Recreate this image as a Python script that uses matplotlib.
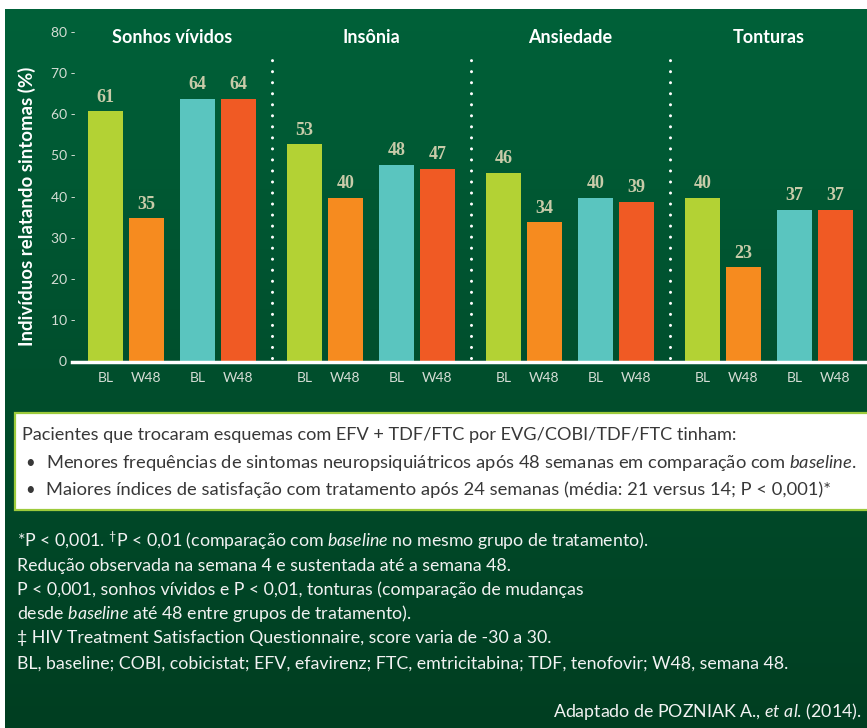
import numpy as np
import matplotlib
matplotlib.use('Agg')
import matplotlib.pyplot as plt
from matplotlib.patches import Rectangle
from matplotlib.colors import LinearSegmentedColormap

# dados (% de indivíduos relatando sintomas)
grupos = ['Sonhos vívidos', 'Insônia', 'Ansiedade', 'Tonturas']
rotulos = ['BL', 'W48', 'BL', 'W48']
efv_bl = [61, 53, 46, 40]
efv_w48 = [35, 40, 34, 23]
evg_bl = [64, 48, 40, 37]
evg_w48 = [64, 47, 39, 37]
yticks = [0, 10, 20, 30, 40, 50, 60, 70, 80]

cores = ['#B3D234', '#F68B1F', '#5AC5BF', '#F05A24']
cor_valor = '#C8CBA9'
cor_tick = '#D5DDD5'

W, H = 867, 728
FONTE = 'Lato'
plt.rcParams['font.family'] = [FONTE, 'DejaVu Sans']
plt.rcParams['mathtext.fontset'] = 'custom'
plt.rcParams['mathtext.rm'] = FONTE
plt.rcParams['mathtext.it'] = FONTE + ':italic'

fig = plt.figure(figsize=(W / 100, H / 100), dpi=100)
fig.patch.set_facecolor('white')


def fx(x):
    return x / W


def fy(y):
    return 1 - y / H


# fundo verde em degradê
bg = fig.add_axes([fx(5), 0, fx(W - 5), 1 - 9 / H])
grad = np.linspace(0, 1, 256).reshape(-1, 1)
cmap = LinearSegmentedColormap.from_list('verde', ['#006139', '#004F2D', '#003E21'])
bg.imshow(grad, aspect='auto', cmap=cmap, extent=[0, 1, 1, 0])
bg.axis('off')

# eixo do gráfico (x em pixels da imagem)
ax = fig.add_axes([fx(72), fy(362), fx(W - 72), (362 - 33) / H])
ax.patch.set_alpha(0)
ax.set_xlim(72, W)
ax.set_ylim(0, 80)

passo_grupo = 199
desloc = [0, 41, 92, 133]
x0 = 105.5
largura = 35

centros = []
for g in range(len(grupos)):
    vals = [efv_bl[g], efv_w48[g], evg_bl[g], evg_w48[g]]
    for k in range(4):
        xc = x0 + g * passo_grupo + desloc[k]
        centros.append(xc)
        ax.bar(xc, vals[k], width=largura, color=cores[k], zorder=2)
        ax.text(xc, vals[k] + 1.3, str(vals[k]), ha='center', va='bottom',
                fontsize=13, fontweight='bold', color=cor_valor,
                family='Liberation Serif')
    cg = x0 + g * passo_grupo + desloc[-1] / 2
    ax.text(cg, 79, grupos[g], ha='center', va='center', fontsize=13,
            fontweight='bold', color='white', clip_on=False)
    if g < len(grupos) - 1:
        ax.vlines(cg + passo_grupo / 2, 1, 74.2, colors='white', lw=2.2,
                  linestyles=(0, (0.01, 3.6)), capstyle='round')

ax.set_xticks(centros)
ax.set_xticklabels(rotulos * len(grupos))
ax.tick_params(axis='x', length=0, pad=7, labelsize=10, labelcolor=cor_tick)
ax.set_yticks([])
for v in yticks:
    txt = str(v) if v == 0 else f'{v} -'
    xx = 67 if v == 0 else 76
    ax.text(xx, v, txt, ha='right', va='center', fontsize=10,
            color=cor_tick, clip_on=False)

for s in ['top', 'left', 'right']:
    ax.spines[s].set_visible(False)
ax.spines['bottom'].set_color('white')
ax.spines['bottom'].set_linewidth(2.5)

fig.text(fx(27), fy(206), 'Indivíduos relatando sintomas (%)', rotation=90,
         ha='center', va='center', fontsize=13.4, fontweight='bold',
         color='white')

# caixa branca
fig.patches.append(Rectangle((fx(15), fy(510)), fx(W), (510 - 413) / H,
                             transform=fig.transFigure, facecolor='white',
                             edgecolor='#9DCB3C', lw=1.6, zorder=0))
cor_caixa = '#383838'
fig.text(fx(22), fy(435),
         'Pacientes que trocaram esquemas com EFV + TDF/FTC por EVG/COBI/TDF/FTC tinham:',
         fontsize=13.1, color=cor_caixa, va='center')
linhas_caixa = [
    r'Menores frequências de sintomas neuropsiquiátricos após 48 semanas em comparação com $\mathit{baseline}$.',
    'Maiores índices de satisfação com tratamento após 24 semanas (média: 21 versus 14; P < 0,001)*',
]
for i, t in enumerate(linhas_caixa):
    yy = 463 + i * 27
    fig.text(fx(25), fy(yy), '•', fontsize=12, color=cor_caixa, va='center')
    fig.text(fx(46), fy(yy), t, fontsize=13.2, color=cor_caixa, va='center')

# notas de rodapé
notas = [
    r'*P < 0,001. $^{\dagger}$P < 0,01 (comparação com $\mathit{baseline}$ no mesmo grupo de tratamento).',
    'Redução observada na semana 4 e sustentada até a semana 48.',
    'P < 0,001, sonhos vívidos e P < 0,01, tonturas (comparação de mudanças',
    r'desde $\mathit{baseline}$ até 48 entre grupos de tratamento).',
    '‡ HIV Treatment Satisfaction Questionnaire, score varia de -30 a 30.',
    'BL, baseline; COBI, cobicistat; EFV, efavirenz; FTC, emtricitabina; TDF, tenofovir; W48, semana 48.',
]
ys_notas = [541, 566, 590, 614, 638, 664]
for t, yy in zip(notas, ys_notas):
    fig.text(fx(17), fy(yy), t, fontsize=12.8, color='#F2F2F2', va='center')

fig.text(fx(862), fy(711), r'Adaptado de POZNIAK A., $\mathit{et\ al}$. (2014).',
         fontsize=12.8, color='#F2F2F2', va='center', ha='right')

fig.savefig('out.png', dpi=100)
